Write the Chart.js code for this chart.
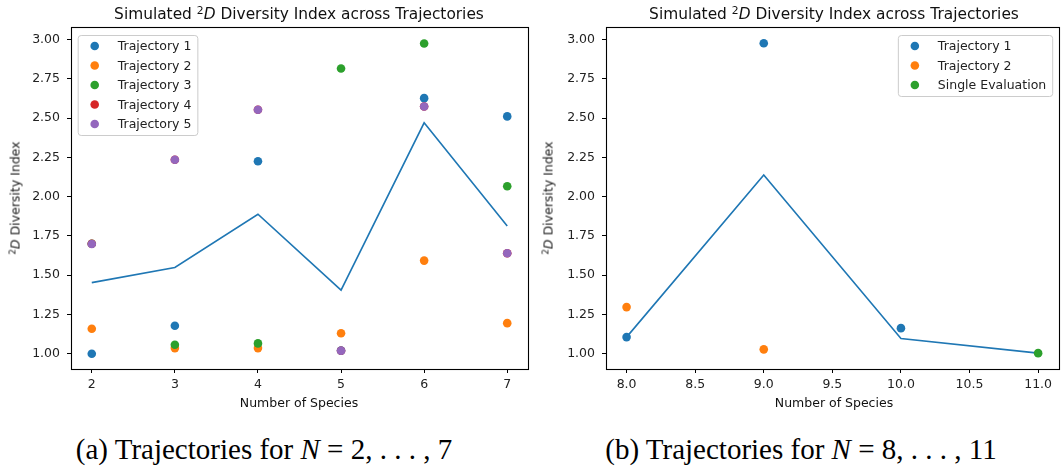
<!DOCTYPE html>
<html>
<head>
<meta charset="utf-8">
<script src="https://cdn.jsdelivr.net/npm/chart.js@4.4.1/dist/chart.umd.min.js"></script>
<style>
  html, body { margin: 0; padding: 0; background: #fff; overflow: hidden; }
  body { width: 1062px; height: 471px; position: relative; font-family: "DejaVu Sans", sans-serif; color: #111; }
  .box { position: absolute; top: 0; height: 420px; }
  .lbl { position: absolute; transform: translate(-50%, -50%); white-space: nowrap; }
  .title { font-size: 15.4px; }
  .axis { font-size: 12.5px; }
  .rot { transform: translate(-50%, -50%) rotate(-90deg); color: #222; }
  .cap { font-family: "Liberation Serif", "Times New Roman", serif; font-size: 29px; color: #000; }
  sup { font-size: 0.7em; vertical-align: 0.45em; line-height: 0; }
</style>
</head>
<body>
<div class="box" style="left:0; width:540px;"><canvas id="chartA"></canvas></div>
<div class="box" style="left:535px; width:528px;"><canvas id="chartB"></canvas></div>

<div class="lbl title" style="left:299px; top:14px;">Simulated <sup>2</sup><i>D</i> Diversity Index across Trajectories</div>
<div class="lbl title" style="left:834px; top:14px;">Simulated <sup>2</sup><i>D</i> Diversity Index across Trajectories</div>
<div class="lbl axis" style="left:299px; top:402px;">Number of Species</div>
<div class="lbl axis" style="left:834px; top:402px;">Number of Species</div>
<div class="lbl axis rot" style="left:15px; top:198px;"><sup>2</sup><i>D</i> Diversity Index</div>
<div class="lbl axis rot" style="left:548px; top:198px;"><sup>2</sup><i>D</i> Diversity Index</div>
<div class="lbl cap" style="left:264px; top:449px;">(a) Trajectories for <i>N</i> = 2, . . . , 7</div>
<div class="lbl cap" style="left:801px; top:449px;">(b) Trajectories for <i>N</i> = 8, . . . , 11</div>

<script>
// --- data, panel (a) ---
const speciesA = [2, 3, 4, 5, 6, 7];
const traj1A = [1.00, 1.178, 2.225, 1.02, 2.627, 2.511];
const traj2A = [1.159, 1.036, 1.036, 1.131, 1.593, 1.195];
const traj3A = [1.70, 1.057, 1.066, 2.816, 2.975, 2.066];
const traj4A = [1.70, 2.235, 2.553, 1.019, 2.574, 1.64];
const traj5A = [1.699, 2.235, 2.553, 1.019, 2.574, 1.64];
const meanA = [1.453, 1.549, 1.888, 1.405, 2.47, 1.814];

// --- data, panel (b) ---
const speciesB = [8, 9, 10, 11];
const traj1B = [1.106, 2.977, 1.163, null];
const traj2B = [1.297, 1.028, null, null];
const singleB = [null, null, null, 1.004];
const meanB = [1.106, 2.138, 1.097, 1.004];

// --- ticks ---
const yTicks = [1.00, 1.25, 1.50, 1.75, 2.00, 2.25, 2.50, 2.75, 3.00];
const xTicksA = [2, 3, 4, 5, 6, 7];
const xTicksB = [8.0, 8.5, 9.0, 9.5, 10.0, 10.5, 11.0];

const colors = ['#1f77b4', '#ff7f0e', '#2ca02c', '#d62728', '#9467bd'];
const FONT = '"DejaVu Sans"';

Chart.defaults.font.family = FONT;
Chart.defaults.font.size = 12.5;
Chart.defaults.color = '#222';

const toPoints = (xs, ys) => xs.map((x, i) => ({ x: x, y: ys[i] })).filter(p => p.y !== null);

function scatterSet(label, xs, ys, color, order) {
    return {
        label: label,
        data: toPoints(xs, ys),
        backgroundColor: color,
        borderColor: color,
        pointRadius: 4.3,
        pointBorderWidth: 0,
        pointHoverRadius: 4.3,
        order: order
    };
}

function lineSet(xs, ys) {
    return {
        label: 'mean',
        noLegend: true,
        data: toPoints(xs, ys),
        showLine: true,
        borderColor: colors[0],
        borderWidth: 1.6,
        pointRadius: 0,
        tension: 0,
        order: 20
    };
}

// frame round the plot area (matplotlib spines)
const frame = {
    id: 'frame',
    afterDatasetsDraw(chart) {
        const a = chart.chartArea, ctx = chart.ctx;
        ctx.save();
        ctx.strokeStyle = '#000';
        ctx.lineWidth = 1.1;
        ctx.strokeRect(Math.round(a.left) + 0.5, Math.round(a.top) + 0.5,
            Math.round(a.width), Math.round(a.height));
        ctx.restore();
    }
};

// matplotlib-like legend box
const legendBox = {
    id: 'legendBox',
    afterDraw(chart, args, opts) {
        const items = chart.data.datasets.filter(d => !d.noLegend);
        const ctx = chart.ctx, a = chart.chartArea;
        ctx.save();
        ctx.font = '12.5px ' + FONT;
        const tw = Math.max(...items.map(d => ctx.measureText(d.label).width));
        const w = 40 + tw + 6;
        const h = 22 + (items.length - 1) * 19.5;
        const left = opts.side === 'right' ? a.right - 6.5 - w : a.left + 6.7;
        const top = a.top + 8;
        ctx.beginPath();
        ctx.roundRect(left + 0.5, top + 0.5, w, h, 3);
        ctx.fillStyle = 'rgba(255,255,255,0.8)';
        ctx.fill();
        ctx.strokeStyle = '#cccccc';
        ctx.lineWidth = 1;
        ctx.stroke();
        ctx.textBaseline = 'middle';
        items.forEach((d, i) => {
            const y = top + 11 + i * 19.5;
            ctx.beginPath();
            ctx.arc(left + 17, y, 4.3, 0, Math.PI * 2);
            ctx.fillStyle = d.backgroundColor;
            ctx.fill();
            ctx.fillStyle = '#222';
            ctx.fillText(d.label, left + 40, y + 1);
        });
        ctx.restore();
    }
};

function makeChart(id, datasets, xMin, xMax, xTicks, xFmt, side, padRight) {
    return new Chart(document.getElementById(id), {
        type: 'scatter',
        data: { datasets: datasets },
        plugins: [frame, legendBox],
        options: {
            responsive: true,
            maintainAspectRatio: false,
            animation: false,
            devicePixelRatio: 1,
            layout: { padding: { top: 27, right: padRight, bottom: 0, left: 0 } },
            plugins: {
                legend: { display: false },
                tooltip: { enabled: false },
                legendBox: { side: side }
            },
            scales: {
                x: {
                    type: 'linear',
                    min: xMin,
                    max: xMax,
                    afterBuildTicks: s => { s.ticks = xTicks.map(v => ({ value: v })); },
                    afterFit: s => { s.height = 51; },
                    ticks: { callback: v => xFmt(v), padding: 4, maxRotation: 0, autoSkip: false },
                    grid: { drawOnChartArea: false, drawTicks: true, tickLength: 4, color: '#000' },
                    border: { display: false }
                },
                y: {
                    type: 'linear',
                    min: 0.903,
                    max: 3.08,
                    afterBuildTicks: s => { s.ticks = yTicks.map(v => ({ value: v })); },
                    afterFit: s => { s.width = 71; },
                    ticks: { callback: v => v.toFixed(2), padding: 7, autoSkip: false },
                    grid: { drawOnChartArea: false, drawTicks: true, tickLength: 4, color: '#000' },
                    border: { display: false }
                }
            }
        }
    });
}

makeChart('chartA', [
    scatterSet('Trajectory 1', speciesA, traj1A, colors[0], 5),
    scatterSet('Trajectory 2', speciesA, traj2A, colors[1], 4),
    scatterSet('Trajectory 3', speciesA, traj3A, colors[2], 3),
    scatterSet('Trajectory 4', speciesA, traj4A, colors[3], 2),
    scatterSet('Trajectory 5', speciesA, traj5A, colors[4], 1),
    lineSet(speciesA, meanA)
], 1.75, 7.25, xTicksA, v => String(v), 'left', 12);

makeChart('chartB', [
    scatterSet('Trajectory 1', speciesB, traj1B, colors[0], 3),
    scatterSet('Trajectory 2', speciesB, traj2B, colors[1], 2),
    scatterSet('Single Evaluation', speciesB, singleB, colors[2], 1),
    lineSet(speciesB, meanB)
], 7.85, 11.15, xTicksB, v => v.toFixed(1), 'right', 0);
</script>
</body>
</html>
